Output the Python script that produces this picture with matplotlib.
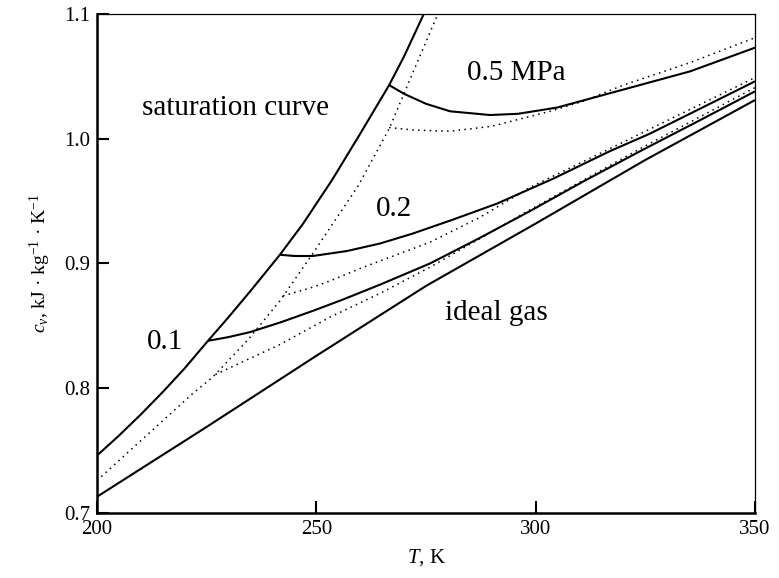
import matplotlib
matplotlib.use("Agg")
import matplotlib.pyplot as plt

# saturation curve (solid) and its dotted counterpart
sat_T = [200, 205, 210, 215, 220, 225.3, 230, 235, 241.7, 247, 253.6, 260, 266.6, 270, 274.5]
sat_cv = [0.746, 0.762, 0.779, 0.797, 0.816, 0.838, 0.857, 0.878, 0.907, 0.932, 0.967,
          1.004, 1.043, 1.066, 1.100]
dsat_T = [200, 210, 221.9, 226.4, 234.2, 241.7, 249.2, 259.5, 266.6, 271.4, 277.7]
dsat_cv = [0.726, 0.758, 0.796, 0.809, 0.838, 0.870, 0.908, 0.962, 1.008, 1.048, 1.100]

# ideal gas
ig_T = [200, 225, 250, 275, 300, 325, 350]
ig_cv = [0.713, 0.769, 0.826, 0.882, 0.932, 0.983, 1.031]

# isobars, solid
p01_T = [225.3, 230, 234.9, 242, 249.2, 256, 264.5, 275.9, 287, 298.7, 311, 323.8, 337, 350]
p01_cv = [0.838, 0.841, 0.845, 0.853, 0.862, 0.871, 0.883, 0.900, 0.920, 0.942, 0.966,
          0.990, 1.014, 1.038]
p02_T = [241.7, 245, 249.2, 257, 264.5, 272, 281, 291.2, 304, 316.9, 326, 338, 350]
p02_cv = [0.907, 0.906, 0.906, 0.910, 0.916, 0.924, 0.935, 0.948, 0.968, 0.990, 1.004,
          1.025, 1.046]
p05_T = [266.6, 270, 275, 280.5, 289.6, 296, 304.9, 318.5, 335.2, 350]
p05_cv = [1.043, 1.036, 1.028, 1.022, 1.019, 1.020, 1.025, 1.038, 1.054, 1.073]

# isobars, dotted
d01_T = [227, 241.7, 253.1, 264.5, 275.9, 287.3, 298.7, 323.8, 350]
d01_cv = [0.811, 0.835, 0.857, 0.876, 0.897, 0.920, 0.943, 0.992, 1.041]
d02_T = [242.4, 249.2, 253.1, 260, 264.5, 275.9, 287.3, 298.7, 316.9, 350]
d02_cv = [0.874, 0.881, 0.886, 0.896, 0.902, 0.917, 0.937, 0.961, 0.992, 1.049]
d05_T = [266.6, 272, 280.5, 290, 303.3, 310.8, 320, 335.2, 350]
d05_cv = [1.009, 1.007, 1.006, 1.010, 1.022, 1.030, 1.043, 1.061, 1.081]

plt.rcParams['font.family'] = ['Liberation Serif', 'DejaVu Serif']
plt.rcParams['mathtext.fontset'] = 'custom'
plt.rcParams['mathtext.rm'] = 'Liberation Serif'
plt.rcParams['mathtext.it'] = 'Liberation Serif:italic'

fig = plt.figure(figsize=(7.79, 5.78), dpi=100)
ax = fig.add_axes([0.1245, 0.1125, 0.8447, 0.8633])

solid = dict(color='black', lw=1.5, solid_capstyle='butt', solid_joinstyle='round')
dotted = dict(color='black', lw=1.1, linestyle=(0, (1, 2.8)))

ax.plot(sat_T, sat_cv, **solid)
ax.plot(ig_T, ig_cv, **solid)
ax.plot(p01_T, p01_cv, **solid)
ax.plot(p02_T, p02_cv, **solid)
ax.plot(p05_T, p05_cv, **solid)

ax.plot(dsat_T, dsat_cv, **dotted)
ax.plot(d01_T, d01_cv, **dotted)
ax.plot(d02_T, d02_cv, **dotted)
ax.plot(d05_T, d05_cv, **dotted)

ax.text(231.5, 1.025, 'saturation curve', fontsize=21, ha='center', va='center')
ax.text(295.6, 1.053, '0.5 MPa', fontsize=21, ha='center', va='center')
ax.text(267.6, 0.944, '0.2', fontsize=21, ha='center', va='center')
ax.text(215.6, 0.837, '0.1', fontsize=21, ha='center', va='center')
ax.text(291, 0.860, 'ideal gas', fontsize=21, ha='center', va='center')

ax.set_xlim(200, 350)
ax.set_ylim(0.7, 1.1)
ax.set_xticks([200, 250, 300, 350])
ax.set_yticks([0.7, 0.8, 0.9, 1.0, 1.1])
ax.set_yticklabels(['0.7', '0.8', '0.9', '1.0', '1.1'])
ax.tick_params(direction='in', length=8.5, width=1.5, labelsize=15, pad=5)

for side in ['left', 'bottom']:
    ax.spines[side].set_linewidth(1.8)
for side in ['top', 'right']:
    ax.spines[side].set_linewidth(0.9)

ax.set_xlabel(r'$T$, K', fontsize=15, labelpad=6)
ax.set_ylabel(r'$c_v$, kJ · kg$^{-1}$ · K$^{-1}$', fontsize=14, labelpad=8)

fig.savefig('out.png', dpi=100)
